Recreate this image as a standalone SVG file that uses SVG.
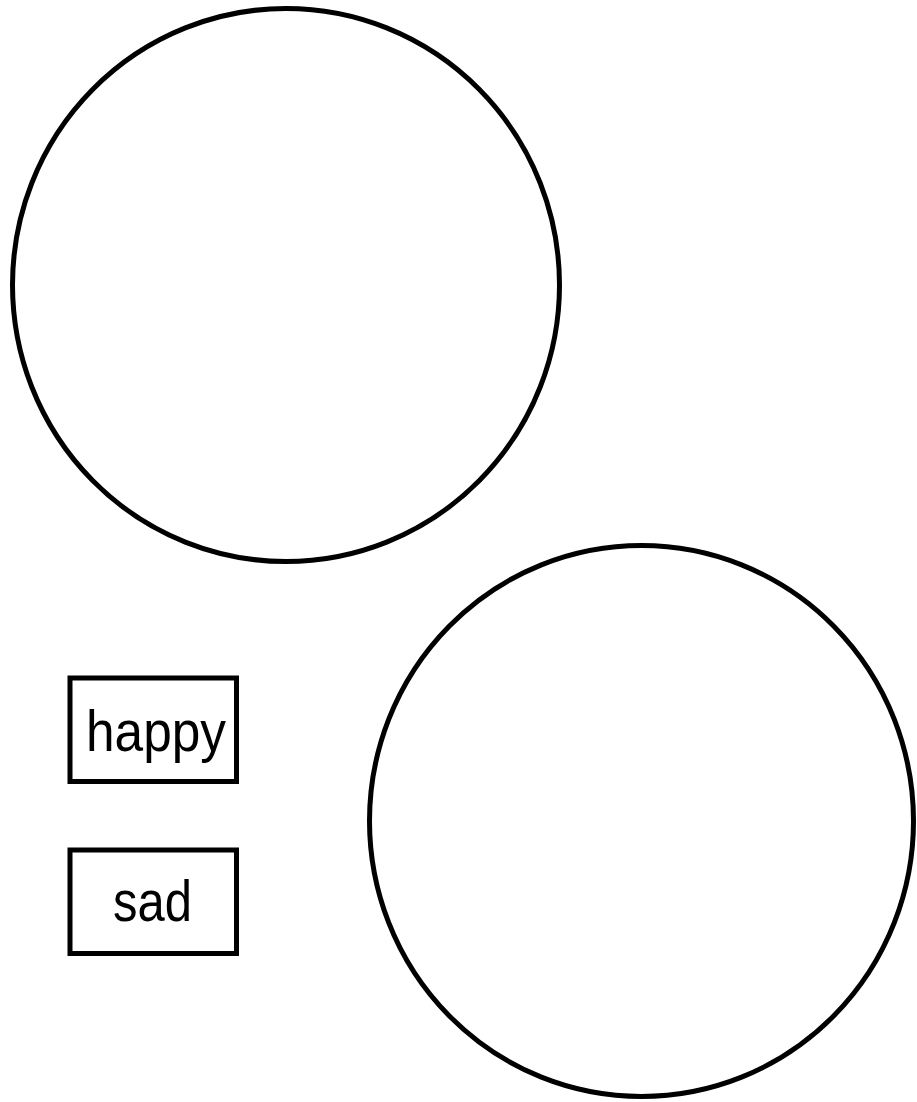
<svg xmlns="http://www.w3.org/2000/svg" width="917" height="1102" viewBox="0 0 917 1102">
<style>
.shape{fill:none;stroke:#000;stroke-width:5}
.box{fill:#fff;stroke:#000;stroke-width:5}
.lbl{font-family:"Liberation Sans",Arial,sans-serif;font-size:57px;fill:#000;text-anchor:middle}
</style>
<rect width="917" height="1102" fill="#fff"/>
<g id="circle-top"><ellipse class="shape" cx="286" cy="285" rx="273.5" ry="276.5"/></g>
<g id="circle-bottom"><ellipse class="shape" cx="641.5" cy="821" rx="272" ry="275.5"/></g>
<g id="node-happy">
<rect class="box" x="70" y="678" width="166.5" height="103.5"/>
<text class="lbl" x="156" y="751" textLength="140" lengthAdjust="spacingAndGlyphs">happy</text>
</g>
<g id="node-sad">
<rect class="box" x="70" y="850" width="166.5" height="103.5"/>
<text class="lbl" x="152.5" y="921" textLength="79" lengthAdjust="spacingAndGlyphs">sad</text>
</g>
<g id="connectors"></g>
</svg>
